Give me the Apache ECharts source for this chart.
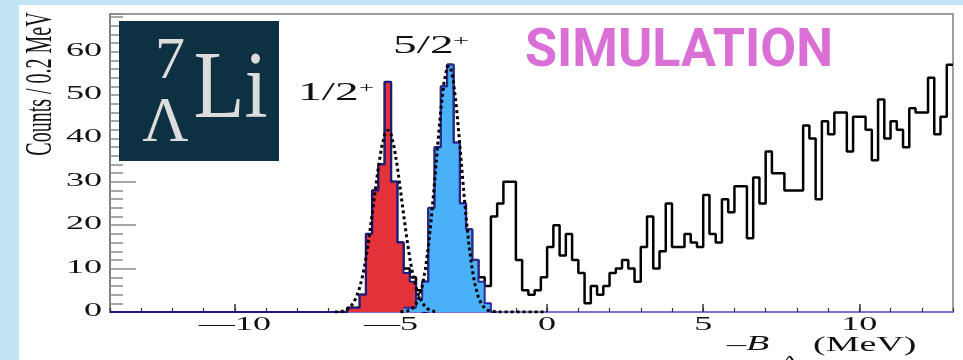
<!DOCTYPE html>
<html>
<head>
<meta charset="utf-8">
<script src="https://cdn.jsdelivr.net/npm/echarts@6/dist/echarts.min.js"></script>
<style>
html,body{margin:0;padding:0;background:#c3e4f4;overflow:hidden;}
#panel{position:absolute;left:19px;top:5px;width:944px;height:355px;background:#ffffff;}
#c{position:absolute;left:0;top:0;width:963px;height:360px;}
</style>
</head>
<body>
<div id="panel"></div>
<div id="c"></div>
<script>
// ---------------- data ----------------
const binWidth = 0.2;
const xMin = -14, xMax = 13, yMin = 0, yMax = 68.7;

// total (black) histogram, bins starting at -6.6 MeV
const totalStart = -6.6;
const totalCounts = [
  0, 1, 1, 4, 18, 28, 34, 53, 30, 16,
  10, 8, 5, 7, 24, 38, 52, 57, 39, 25,
  19, 12, 8, 6, 22, 25, 30, 30, 12, 5,
  4, 5, 8, 15, 20, 13, 18, 12, 9, 2,
  6, 4, 6, 9, 10, 12, 10, 7, 15, 22,
  10, 14, 25, 15, 15, 18, 16, 15, 27, 18,
  16, 26, 23, 29, 29, 17, 31, 25, 37, 32,
  32, 28, 28, 28, 43, 40, 26, 44, 41, 46,
  46, 37, 45, 45, 42, 35, 49, 40, 44, 42,
  38, 47, 46, 46, 54, 41, 45, 57
];

// 1/2+ component (red)
const redStart = -6.6;
const redCounts = [0, 1, 1, 4, 18, 28, 34, 53, 30, 16, 9, 7, 2, 0];

// 5/2+ component (blue)
const blueStart = -4.6;
const blueCounts = [1, 1, 3, 7, 24, 38, 52, 57, 39, 25, 19, 12, 7, 2, 0];

// dotted fit curves
const redFitPoints = [
  [-6.8,0],[-6.7,0],[-6.6,0.1],[-6.5,0.3],[-6.4,0.6],[-6.3,1.2],[-6.2,2.1],[-6.1,3.6],
  [-6.0,5.7],[-5.9,8.6],[-5.8,12.5],[-5.7,17.3],[-5.6,22.7],[-5.5,28.3],[-5.4,33.6],
  [-5.3,38.0],[-5.2,41.0],[-5.1,42.0],[-5.0,41.0],[-4.9,38.0],[-4.8,33.6],[-4.7,28.3],
  [-4.6,22.7],[-4.5,17.3],[-4.4,12.5],[-4.3,8.6],[-4.2,5.7],[-4.1,3.6],[-4.0,2.1],
  [-3.9,1.2],[-3.8,0.6],[-3.7,0.3],[-3.6,0.1],[-3.5,0]
];
const blueFitPoints = [
  [-4.7,0],[-4.6,0.1],[-4.5,0.2],[-4.4,0.4],[-4.3,0.9],[-4.2,1.8],[-4.1,3.4],[-4.0,6.0],
  [-3.9,9.8],[-3.8,15.2],[-3.7,22.2],[-3.6,30.3],[-3.5,38.9],[-3.4,46.9],[-3.3,53.1],
  [-3.2,56.6],[-3.1,56.6],[-3.0,53.1],[-2.9,46.9],[-2.8,38.9],[-2.7,30.3],[-2.6,22.2],
  [-2.5,15.2],[-2.4,9.8],[-2.3,6.0],[-2.2,3.4],[-2.1,1.8],[-2.0,0.9],[-1.9,0.4],
  [-1.8,0.2],[-1.7,0.1],[-1.6,0],[0.0,0]
];

const xTickValues = [-10, -5, 0, 5, 10];
const xTickLabels = ['\u201410', '\u20145', '0', '5', '10'];
const yTickValues = [0, 10, 20, 30, 40, 50, 60];
const yTickLabels = ['0', '10', '20', '30', '40', '50', '60'];
const yAxisTitle = 'Counts / 0.2 MeV';
const peakLabels = [{text: '1/2', sup: '+'}, {text: '5/2', sup: '+'}];

// ---------------- helpers ----------------
function stepPoints(start, counts) {
  const pts = counts.map((c, i) => [+(start + binWidth * i).toFixed(4), c]);
  pts.push([+(start + binWidth * counts.length).toFixed(4), counts[counts.length - 1]]);
  return pts;
}

const serif = "'Liberation Serif', 'Times New Roman', serif";
const SX = 1.9;

const chart = echarts.init(document.getElementById('c'), null, {renderer: 'canvas'});

const option = {
  animation: false,
  backgroundColor: 'transparent',
  grid: {left: 110, right: 10, top: 14, bottom: 48, show: true,
         borderColor: '#7f7f7f', borderWidth: 1.5, backgroundColor: 'transparent'},
  xAxis: [
    {type: 'value', min: xMin, max: xMax, position: 'bottom',
     axisLine: {show: true, onZero: false, lineStyle: {color: '#7676d6', width: 2}},
     axisTick: {show: true, inside: true, length: 8, customValues: xTickValues,
                lineStyle: {color: '#333', width: 1.5}},
     axisLabel: {show: false}, splitLine: {show: false}},
    {type: 'value', min: xMin, max: xMax, interval: 1, position: 'bottom',
     axisLine: {show: false, onZero: false},
     axisTick: {show: true, inside: true, length: 4, lineStyle: {color: '#333', width: 1.2}},
     axisLabel: {show: false}, splitLine: {show: false}}
  ],
  yAxis: [
    {type: 'value', min: yMin, max: yMax, position: 'left',
     axisLine: {show: true, onZero: false, lineStyle: {color: '#7a7a7a', width: 1.5}},
     axisTick: {show: true, inside: true, length: 26, customValues: yTickValues,
                lineStyle: {color: '#8a8a8a', width: 1.5}},
     axisLabel: {show: false}, splitLine: {show: false}},
    {type: 'value', min: yMin, max: yMax, interval: 2, position: 'left',
     axisLine: {show: false, onZero: false},
     axisTick: {show: true, inside: true, length: 13, lineStyle: {color: '#8a8a8a', width: 1.5}},
     axisLabel: {show: false}, splitLine: {show: false}}
  ],
  series: [
    {type: 'line', name: 'total', xAxisIndex: 0, yAxisIndex: 0, step: 'end',
     showSymbol: false, data: stepPoints(totalStart, totalCounts),
     lineStyle: {color: '#000', width: 2.5}, z: 2},
    {type: 'line', name: '1/2+', xAxisIndex: 0, yAxisIndex: 0, step: 'end',
     showSymbol: false, data: [[xMin, 0]].concat(stepPoints(redStart, redCounts)),
     lineStyle: {color: '#1c1c80', width: 2}, areaStyle: {color: '#e3323a', opacity: 1}, z: 3},
    {type: 'line', name: '5/2+', xAxisIndex: 0, yAxisIndex: 0, step: 'end',
     showSymbol: false, data: stepPoints(blueStart, blueCounts),
     lineStyle: {color: '#2a2a96', width: 2}, areaStyle: {color: '#4ab0f8', opacity: 1}, z: 4},
    {type: 'line', name: 'fit 1/2+', xAxisIndex: 0, yAxisIndex: 0, showSymbol: false,
     data: redFitPoints, lineStyle: {color: '#000', width: 3, type: [3, 3]}, z: 5},
    {type: 'line', name: 'fit 5/2+', xAxisIndex: 0, yAxisIndex: 0, showSymbol: false,
     data: blueFitPoints, lineStyle: {color: '#000', width: 3, type: [3, 3]}, z: 5}
  ]
};
chart.setOption(option);

const px = v => chart.convertToPixel({xAxisIndex: 0}, v);
const py = v => chart.convertToPixel({yAxisIndex: 0}, v);

function txt(text, x, y, size, o) {
  o = o || {};
  return {
    type: 'text', x: x, y: y, z: 100, silent: true,
    scaleX: o.sx == null ? 1 : o.sx, scaleY: o.sy == null ? 1 : o.sy,
    rotation: o.rot || 0,
    style: {
      text: text, fontSize: size, fontFamily: o.family || serif,
      fontWeight: o.weight || 'normal', fontStyle: o.style || 'normal',
      fill: o.fill || '#111',
      align: o.align || 'left', textAlign: o.align || 'left',
      verticalAlign: 'middle', textVerticalAlign: 'middle'
    }
  };
}

function measure(text, font) {
  const ctx = document.createElement('canvas').getContext('2d');
  ctx.font = font;
  return ctx.measureText(text).width;
}

const g = [];
// tick labels
yTickValues.forEach((v, i) => g.push(txt(yTickLabels[i], 102, py(v) - 1, 19, {align: 'right', sx: SX})));
xTickValues.forEach((v, i) => g.push(txt(xTickLabels[i], px(v), 325, 19, {align: 'center', sx: SX})));
// axis titles
g.push(txt(yAxisTitle, 41, 84, 20, {align: 'center', rot: Math.PI / 2, sy: SX}));
g.push(txt('\u2013', 727, 346, 20, {sx: SX}));
g.push(txt('B', 746, 345, 20, {sx: SX, style: 'italic'}));
g.push(txt('\u039B', 781, 361, 13, {sx: SX}));
g.push(txt('(MeV)', 813, 346, 20, {sx: SX}));
// peak labels
g.push(txt(peakLabels[0].text, 298, 93.5, 25, {sx: SX}));
g.push(txt(peakLabels[0].sup, 359, 88, 14, {sx: SX}));
g.push(txt(peakLabels[1].text, 393, 46.5, 25, {sx: SX}));
g.push(txt(peakLabels[1].sup, 453, 41, 15, {sx: SX}));
// SIMULATION
const simFont = 'bold 53px Roboto';
const simW = measure('SIMULATION', simFont);
g.push(txt('SIMULATION', 525, 53, 53, {family: 'Roboto', weight: 'bold', fill: '#da70d6', sx: 308 / simW}));
// hypernucleus badge
g.push({type: 'rect', z: 99, silent: true, shape: {x: 119, y: 21, width: 160, height: 140},
        style: {fill: '#0e3043'}});
g.push(txt('7', 170, 62.5, 60, {align: 'center', fill: '#dcdcdc'}));
g.push(txt('\u039B', 165.5, 124.5, 64, {align: 'center', fill: '#dcdcdc'}));
g.push(txt('Li', 230.5, 91.5, 96, {align: 'center', fill: '#dcdcdc', sx: 0.87}));

chart.setOption({graphic: g});
</script>
</body>
</html>
